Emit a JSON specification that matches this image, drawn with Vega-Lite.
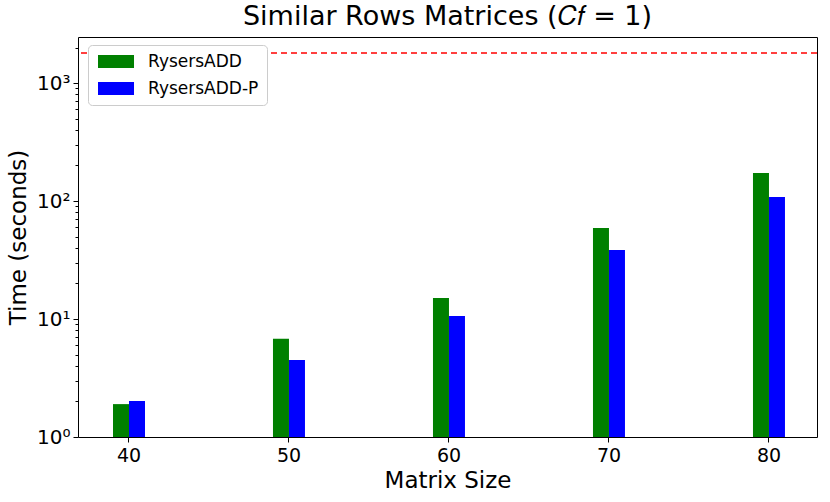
{
  "$schema": "https://vega.github.io/schema/vega-lite/v6.json",
  "width": 739,
  "height": 400,
  "autosize": {"type": "none"},
  "padding": {"left": 78, "top": 37, "right": 13, "bottom": 65},
  "background": "white",
  "config": {
    "view": {"stroke": "#000", "strokeWidth": 1},
    "font": "DejaVu Sans"
  },
  "title": {
    "text": "Similar Rows Matrices (𝐶𝑓 = 1)",
    "font": "DejaVu Sans",
    "fontSize": 27,
    "fontWeight": "normal",
    "color": "#000",
    "offset": 6
  },
  "layer": [
    {
      "data": {
        "values": [
          {"size": 40, "method": "RysersADD", "time": 1.9},
          {"size": 40, "method": "RysersADD-P", "time": 2.02},
          {"size": 50, "method": "RysersADD", "time": 6.8},
          {"size": 50, "method": "RysersADD-P", "time": 4.5},
          {"size": 60, "method": "RysersADD", "time": 15.1},
          {"size": 60, "method": "RysersADD-P", "time": 10.6},
          {"size": 70, "method": "RysersADD", "time": 59},
          {"size": 70, "method": "RysersADD-P", "time": 38.4},
          {"size": 80, "method": "RysersADD", "time": 173},
          {"size": 80, "method": "RysersADD-P", "time": 108}
        ]
      },
      "mark": {"type": "bar"},
      "encoding": {
        "x": {
          "field": "size",
          "type": "ordinal",
          "scale": {"paddingInner": 0.8, "paddingOuter": 0.209375, "align": 0.522},
          "axis": {
            "title": "Matrix Size",
            "titleFontSize": 23,
            "titleFontWeight": "normal",
            "titleColor": "#000",
            "titlePadding": 4,
            "labelAngle": 0,
            "labelFontSize": 19,
            "labelColor": "#000",
            "labelPadding": 4,
            "tickSize": 5,
            "tickColor": "#000",
            "domain": false,
            "grid": false
          }
        },
        "xOffset": {
          "field": "method",
          "type": "nominal",
          "sort": ["RysersADD", "RysersADD-P"],
          "scale": {"paddingInner": 0, "paddingOuter": 0}
        },
        "y": {
          "field": "time",
          "type": "quantitative",
          "scale": {"type": "log", "domain": [1, 2455], "nice": false},
          "axis": {
            "title": "Time (seconds)",
            "titleFontSize": 23,
            "titleFontWeight": "normal",
            "titleColor": "#000",
            "titlePadding": 6,
            "values": [1, 2, 3, 4, 5, 6, 7, 8, 9, 10, 20, 30, 40, 50, 60, 70, 80, 90, 100, 200, 300, 400, 500, 600, 700, 800, 900, 1000, 2000],
            "labelExpr": "datum.value == 1 ? '10⁰' : datum.value == 10 ? '10¹' : datum.value == 100 ? '10²' : datum.value == 1000 ? '10³' : ''",
            "labelFontSize": 20,
            "labelColor": "#000",
            "labelPadding": 3,
            "tickColor": "#000",
            "tickSize": {"condition": {"test": "indexof([1, 10, 100, 1000], datum.value) >= 0", "value": 5}, "value": 3},
            "domain": false,
            "grid": false
          }
        },
        "y2": {"datum": 1},
        "color": {
          "field": "method",
          "type": "nominal",
          "scale": {"domain": ["RysersADD", "RysersADD-P"], "range": ["#008000", "#0000ff"]},
          "legend": {
            "title": null,
            "orient": "none",
            "legendX": 10,
            "legendY": 8,
            "padding": 8,
            "fillColor": "white",
            "strokeColor": "#cccccc",
            "cornerRadius": 4,
            "labelFontSize": 17,
            "labelColor": "#000",
            "labelOffset": 35,
            "rowPadding": 9,
            "symbolType": "M-1,-1H4.54V1H-1Z",
            "symbolSize": 169,
            "symbolStrokeWidth": 0
          }
        }
      }
    },
    {
      "data": {"values": [{"timeout": 1800}]},
      "mark": {"type": "rule", "color": "#ff0000", "strokeDash": [6, 4], "strokeWidth": 1.5},
      "encoding": {
        "y": {"field": "timeout", "type": "quantitative"}
      }
    }
  ]
}
